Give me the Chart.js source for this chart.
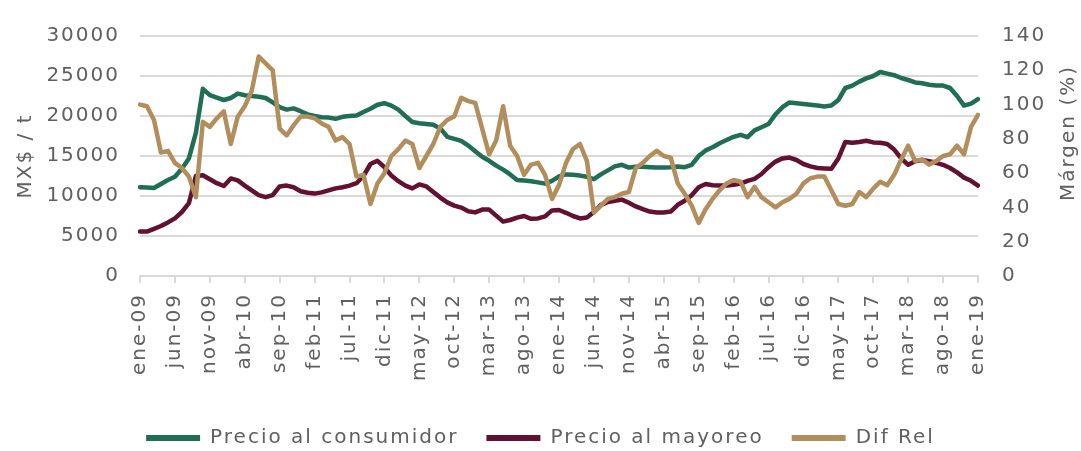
<!DOCTYPE html>
<html lang="es">
<head>
<meta charset="utf-8">
<title>Precio al consumidor / mayoreo</title>
<script src="https://cdn.jsdelivr.net/npm/chart.js@4/dist/chart.umd.min.js"></script>
<style>
  html, body { margin: 0; background: #fff; }
  #wrap { width: 1081px; height: 451px; }
</style>
</head>
<body>
<div id="wrap"><canvas id="chart" width="1081" height="451"></canvas></div>
<script>
// データ：ene-09 〜 ene-19 の月次（121 点）
const MESES = ["ene", "feb", "mar", "abr", "may", "jun", "jul", "ago", "sep", "oct", "nov", "dic"];
const labels = [];
for (let y = 9; y <= 19; y++) {
  MESES.forEach(m => { if (labels.length < 121) labels.push(`${m}-${String(y).padStart(2, "0")}`); });
}

const consumidor = [
  11100, 11050, 11000, 11500, 12000, 12400, 13400, 14700, 17900, 23400,
  22600, 22300, 22000, 22250, 22800, 22600, 22500, 22400, 22250, 21700,
  21100, 20800, 20950, 20600, 20200, 20000, 19850, 19800, 19650, 19900,
  20000, 20050, 20500, 20900, 21400, 21600, 21300, 20800, 20000, 19250,
  19100, 19000, 18900, 18450, 17400, 17150, 16900, 16300, 15600, 14900,
  14400, 13800, 13300, 12700, 12000, 11950, 11850, 11700, 11550, 11900,
  12450, 12700, 12650, 12550, 12400, 12100, 12700, 13200, 13700, 13900,
  13550, 13650, 13650, 13600, 13550, 13550, 13600, 13700, 13600, 13900,
  15000, 15700, 16100, 16600, 17000, 17400, 17650, 17350, 18200, 18600,
  19000, 20200, 21100, 21700, 21600, 21500, 21400, 21300, 21200, 21300,
  22000, 23500, 23800, 24300, 24700, 25000, 25500, 25300, 25100, 24750,
  24500, 24200, 24100, 23900, 23800, 23800, 23500, 22500, 21300, 21550,
  22100
];

const mayoreo = [
  5550, 5550, 5900, 6250, 6700, 7200, 8000, 9100, 12500, 12600,
  12100, 11600, 11250, 12200, 11950, 11300, 10700, 10100, 9850, 10100,
  11200, 11300, 11100, 10600, 10400, 10300, 10450, 10700, 10950, 11100,
  11300, 11600, 12500, 14000, 14400, 13600, 12550, 11850, 11300, 10950,
  11450, 11200, 10500, 9800, 9200, 8800, 8550, 8100, 7950, 8300,
  8300, 7550, 6800, 7000, 7300, 7500, 7150, 7200, 7450, 8200,
  8250, 7900, 7500, 7200, 7300, 8000, 8900, 9250, 9400, 9550,
  9150, 8700, 8350, 8050, 7950, 7950, 8050, 8900, 9400, 10100,
  11100, 11500, 11350, 11300, 11300, 11400, 11550, 11900, 12150, 12750,
  13600, 14300, 14700, 14800, 14500, 14000, 13700, 13500, 13450, 13400,
  14700, 16750, 16650, 16750, 16900, 16700, 16650, 16500, 15800, 14700,
  13900, 14350, 14500, 14350, 14150, 13900, 13500, 12950, 12300, 11900,
  11300
];

// Dif Rel（右軸、%）
const difRel = [
  100, 99, 91, 72, 73, 66, 63, 58, 46, 90,
  87, 92, 96, 77, 93, 99, 108, 128, 124, 120,
  86, 82, 88, 93, 93, 92, 89, 87, 79, 81,
  77, 58, 59, 42, 54, 60, 70, 74, 79, 77,
  63, 70, 77, 87, 91, 93, 104, 102, 101, 86,
  71, 79, 99, 76, 70, 59, 65, 66, 59, 45,
  53, 66, 74, 77, 67, 37, 41, 45, 46, 48,
  49, 63, 66, 70, 73, 70, 69, 54, 48, 41,
  31, 39, 45, 50, 54, 56, 55, 46, 52, 46,
  43, 40, 43, 45, 48, 54, 57, 58, 58, 50,
  42, 41, 42, 49, 46, 51, 55, 53, 59, 68,
  76, 67, 68, 65, 67, 70, 71, 76, 71, 87,
  94
];

const VERDE = "#216e56";
const GUINDA = "#621132";
const ORO = "#b38e5d";
const GRIS_TXT = "#606060";
const GRIS_LINEA = "#d9d9d9";
const FONT = "'DejaVu Sans', sans-serif";

Chart.defaults.font.family = FONT;
Chart.defaults.font.size = 20;
Chart.defaults.color = GRIS_TXT;

// 元の書体は字幅が広いので、字間を少し空ける（計測にも効く）
const espaciado = {
  id: "espaciado",
  beforeUpdate(chart) { chart.ctx.letterSpacing = "2px"; }
};

// 右軸タイトルは下から上に読む向きなので自前で描く
const rightTitle = {
  id: "rightTitle",
  afterDraw(chart) {
    const s = chart.scales.y1;
    const ctx = chart.ctx;
    ctx.save();
    ctx.translate(s.right - 12, 133);
    ctx.rotate(-Math.PI / 2);
    ctx.font = `20px ${FONT}`;
    ctx.fillStyle = GRIS_TXT;
    ctx.textAlign = "center";
    ctx.textBaseline = "middle";
    ctx.fillText("Márgen (%)", 0, 0);
    ctx.restore();
  }
};

function serie(label, data, color, axis, order) {
  return {
    label, data, yAxisID: axis, order,
    borderColor: color, backgroundColor: color,
    borderWidth: 4.5, pointRadius: 0, tension: 0,
    borderJoinStyle: "round", borderCapStyle: "round"
  };
}

new Chart(document.getElementById("chart"), {
  type: "line",
  data: {
    labels,
    datasets: [
      serie("Precio al consumidor", consumidor, VERDE, "y", 1),
      serie("Precio al mayoreo", mayoreo, GUINDA, "y", 2),
      serie("Dif Rel", difRel, ORO, "y1", 0)
    ]
  },
  options: {
    responsive: false,
    animation: false,
    layout: { padding: { top: 26, left: 0, right: 0, bottom: -7 } },
    plugins: {
      tooltip: { enabled: false },
      legend: {
        position: "bottom",
        labels: {
          boxWidth: 54, boxHeight: 6, padding: 28, color: GRIS_TXT,
          font: { size: 20 },
          sort: (a, b) => a.datasetIndex - b.datasetIndex,
          generateLabels: chart =>
            Chart.defaults.plugins.legend.labels.generateLabels(chart).map(l => ({ ...l, lineWidth: 0 }))
        }
      }
    },
    scales: {
      x: {
        offset: false,
        border: { display: true, color: GRIS_LINEA, width: 2 },
        grid: {
          drawOnChartArea: false, drawTicks: true, tickLength: 7, lineWidth: 2,
          color: c => (c.index % 5 === 0 ? GRIS_LINEA : "transparent")
        },
        ticks: {
          autoSkip: false, minRotation: 90, maxRotation: 90, padding: 10,
          callback: (v, i) => (i % 5 === 0 ? labels[i] : "")
        },
        afterFit: s => { s.height = 451 + 7 - s.chart.legend.height - 276; }
      },
      y: {
        position: "left", min: 0, max: 30000,
        border: { display: false },
        grid: { color: GRIS_LINEA, lineWidth: 2, drawTicks: false },
        ticks: { stepSize: 5000, padding: 20, callback: v => String(v) },
        title: { display: true, text: "MX$ / t", padding: { top: 14, bottom: 0 }, font: { size: 20 } },
        afterFit: s => { s.width = 140; }
      },
      y1: {
        position: "right", min: 0, max: 140,
        border: { display: false },
        grid: { display: false, drawTicks: false },
        ticks: { stepSize: 20, padding: 24, callback: v => String(v) },
        afterFit: s => { s.width = 103; }
      }
    }
  },
  plugins: [espaciado, rightTitle]
});
</script>
</body>
</html>
